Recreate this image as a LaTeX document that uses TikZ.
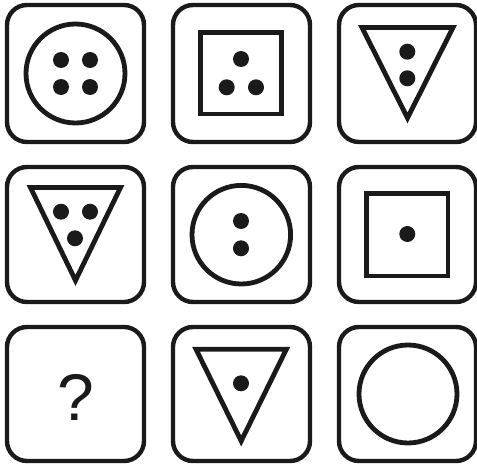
\documentclass[tikz,border=0pt]{standalone}
\usepackage{fontspec}
\setmainfont{Liberation Sans}
\definecolor{ink}{HTML}{1A1A1A}
\begin{document}
\begin{tikzpicture}[x=1pt,y=-1pt,
  tile/.style={draw=ink,line width=4.4pt,rounded corners=20pt},
  fig/.style={draw=ink,line width=4.8pt},
  dot/.style={fill=ink}]
\useasboundingbox (0,0) rectangle (477,468);
% tiles
\foreach \x in {7,173,339}{
  \draw[tile] (\x,5) rectangle ++(137,137);
  \draw[tile] (\x,167) rectangle ++(137,135);
  \draw[tile] (\x,327) rectangle ++(137,134);
}
% cell 1
\draw[fig] (75.5,73.5) circle[radius=49.5];
\foreach \p in {(61,60),(90,60),(61,87),(90,87)} \fill[dot] \p circle[radius=8];
% cell 2
\draw[fig] (200.5,32.5) rectangle (281.5,114);
\foreach \p in {(241,59),(226.7,87.3),(256,87.3)} \fill[dot] \p circle[radius=8];
% cell 3
\draw[fig] (362,27.5) -- (453,27.5) -- (407.5,118) -- cycle;
\foreach \p in {(407.3,51.7),(407.3,78.3)} \fill[dot] \p circle[radius=8];
% cell 4
\draw[fig] (30.5,187.5) -- (120.5,187.5) -- (75.5,280.5) -- cycle;
\foreach \p in {(61,211.7),(90,211.7),(75,238.3)} \fill[dot] \p circle[radius=8];
% cell 5
\draw[fig] (241.3,234.7) circle[radius=49.3];
\foreach \p in {(241,221),(241,248.3)} \fill[dot] \p circle[radius=8];
% cell 6
\draw[fig] (366.5,193.5) rectangle (448,276);
\fill[dot] (407.3,234) circle[radius=8];
% cell 7
\node[anchor=base,inner sep=0pt,text=ink,font=\fontsize{66}{66}\selectfont] (q) at (75.5,420) {?};
% cell 8
\draw[fig] (196,349.2) -- (286.4,349.2) -- (241.2,441) -- cycle;
\fill[dot] (241,383.3) circle[radius=8];
% cell 9
\draw[fig] (408,394) circle[radius=49];
\end{tikzpicture}
\end{document}
